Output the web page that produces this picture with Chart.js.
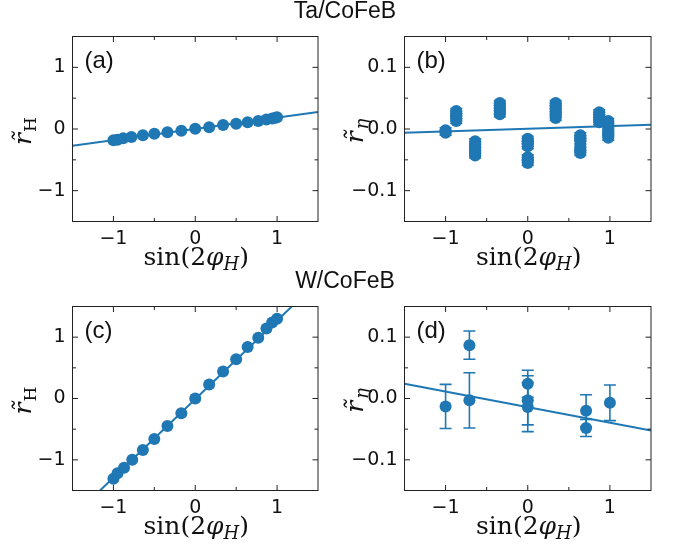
<!DOCTYPE html>
<html>
<head>
<meta charset="utf-8">
<script src="https://cdn.jsdelivr.net/npm/chart.js@4.4.1/dist/chart.umd.min.js"></script>
<style>
  body { margin: 0; background: #fff; }
  #wrap { position: relative; width: 683px; height: 548px; }
  #wrap canvas { position: absolute; left: 0; top: 0; }
</style>
</head>
<body>
<div id="wrap">
  <canvas id="chartA" width="683" height="548"></canvas>
  <canvas id="chartB" width="683" height="548"></canvas>
  <canvas id="chartC" width="683" height="548"></canvas>
  <canvas id="chartD" width="683" height="548"></canvas>
</div>
<script>
// --- Data ---
const xMajor = [-1, 0, 1];
const xMinor = [-0.5, 0.5];
const rMinor = [-0.5, 0.5];
const etaMinor = [-0.05, 0.05];
const fitX = [-1.5, 1.5];

// (a) Ta/CoFeB  r_H
const aX = [-1, -0.95, -0.88, -0.78, -0.64, -0.5, -0.34, -0.17, 0, 0.17, 0.34, 0.5, 0.64, 0.77, 0.87, 0.94, 0.98, 1];
const aY = [-0.184, -0.173, -0.151, -0.13, -0.103, -0.076, -0.054, -0.027, 0.004, 0.03, 0.065, 0.086, 0.108, 0.13, 0.155, 0.172, 0.182, 0.19];
const aFit = [-0.27, 0.275];

// (b) Ta/CoFeB  r_eta
const bX = [-1, -1,
  -0.87, -0.87, -0.87, -0.87, -0.87,
  -0.64, -0.64, -0.64, -0.64, -0.64, -0.64,
  -0.34, -0.34, -0.34, -0.34, -0.34,
  0, 0, 0, 0, 0, 0, 0,
  0.34, 0.34, 0.34, 0.34, 0.34, 0.34,
  0.64, 0.64, 0.64, 0.64, 0.64, 0.64,
  0.87, 0.87, 0.87, 0.87, 0.87,
  0.98, 0.98, 0.98, 0.98, 0.98, 0.98];
const bY = [-0.002, -0.006,
  0.013, 0.017, 0.021, 0.025, 0.029,
  -0.020, -0.025, -0.030, -0.035, -0.040, -0.043,
  0.024, 0.029, 0.034, 0.038, 0.042,
  -0.016, -0.020, -0.024, -0.028, -0.046, -0.050, -0.055,
  0.018, 0.023, 0.028, 0.033, 0.038, 0.042,
  -0.010, -0.015, -0.020, -0.030, -0.034, -0.039,
  0.011, 0.015, 0.019, 0.023, 0.027,
  0.013, 0.008, 0.002, -0.004, -0.009, -0.014];
const bErr = bY.map(() => 0.004);
const bFit = [-0.006, 0.007];

// (c) W/CoFeB  r_H
const cX = [-1, -0.95, -0.87, -0.77, -0.64, -0.5, -0.34, -0.17, 0, 0.17, 0.34, 0.5, 0.64, 0.77, 0.87, 0.94, 1];
const cY = [-1.31, -1.22, -1.13, -1.0, -0.84, -0.66, -0.45, -0.24, 0, 0.23, 0.44, 0.64, 0.84, 0.99, 1.14, 1.24, 1.30];
const cFit = [-1.93, 1.91];

// (d) W/CoFeB  r_eta
const dX = [-1, -0.71, -0.71, 0, 0, 0, 0.71, 0.71, 1];
const dY = [-0.013, 0.087, -0.003, 0.024, -0.003, -0.014, -0.020, -0.048, -0.007];
const dErr = [0.036, 0.023, 0.045, 0.022, 0.040, 0.040, 0.026, 0.014, 0.029];
const dFit = [0.024, -0.052];

const BLUE = '#1f77b4';
const INK = '#111';

// --- Helpers ---
function fmtTick(v, digits) {
  const s = Math.abs(v).toFixed(digits);
  return v < -1e-9 ? '\u2212' + s : s;
}

function drawRich(ctx, parts, cx, cy, angle) {
  ctx.save();
  ctx.translate(cx, cy);
  ctx.rotate(angle);
  ctx.textBaseline = 'alphabetic';
  ctx.textAlign = 'left';
  ctx.fillStyle = INK;
  let w = 0;
  parts.forEach(p => { ctx.font = p.font; p.w = ctx.measureText(p.t).width + (p.gap || 0); w += p.w; });
  let x = -w / 2;
  parts.forEach(p => { ctx.font = p.font; ctx.fillText(p.t, x + (p.gap || 0), p.dy || 0); x += p.w; });
  ctx.restore();
}

// error bars, drawn through the chart scales
const errorBars = {
  id: 'errorBars',
  beforeDatasetsDraw(chart) {
    const { ctx, chartArea: a, scales: { x, y } } = chart;
    ctx.save();
    ctx.beginPath();
    ctx.rect(a.left, a.top, a.right - a.left, a.bottom - a.top);
    ctx.clip();
    ctx.strokeStyle = BLUE;
    ctx.lineWidth = 1.6;
    chart.data.datasets.forEach(ds => {
      if (!ds.err) return;
      ds.data.forEach((p, i) => {
        const px = x.getPixelForValue(p.x);
        const y1 = y.getPixelForValue(p.y - ds.err[i]);
        const y2 = y.getPixelForValue(p.y + ds.err[i]);
        ctx.beginPath();
        ctx.moveTo(px, y1); ctx.lineTo(px, y2);
        ctx.moveTo(px - 6, y1); ctx.lineTo(px + 6, y1);
        ctx.moveTo(px - 6, y2); ctx.lineTo(px + 6, y2);
        ctx.stroke();
      });
    });
    ctx.restore();
  }
};

// frame, inward ticks, labels
const deco = {
  id: 'deco',
  afterDraw(chart, args, o) {
    const { ctx, chartArea: a, scales: { x, y } } = chart;
    ctx.save();
    ctx.strokeStyle = '#222';
    ctx.lineWidth = 1;
    ctx.strokeRect(a.left, a.top, a.right - a.left, a.bottom - a.top);

    ctx.beginPath();
    const tickX = (v, len) => {
      const px = x.getPixelForValue(v);
      ctx.moveTo(px, a.bottom); ctx.lineTo(px, a.bottom - len);
      ctx.moveTo(px, a.top); ctx.lineTo(px, a.top + len);
    };
    const tickY = (v, len) => {
      const py = y.getPixelForValue(v);
      ctx.moveTo(a.left, py); ctx.lineTo(a.left + len, py);
      ctx.moveTo(a.right, py); ctx.lineTo(a.right - len, py);
    };
    x.ticks.forEach(t => tickX(t.value, 5.5));
    y.ticks.forEach(t => tickY(t.value, 5.5));
    o.xMinor.forEach(v => tickX(v, 3.5));
    o.yMinor.forEach(v => tickY(v, 3.5));
    ctx.stroke();

    // panel tag
    ctx.fillStyle = INK;
    ctx.font = '24px "Liberation Sans"';
    ctx.textAlign = 'left';
    ctx.textBaseline = 'alphabetic';
    ctx.fillText(o.tag, a.left + 12, a.top + 31.5);

    // row title
    if (o.title) {
      ctx.font = '23px "Liberation Sans"';
      ctx.textAlign = 'center';
      ctx.fillText(o.title, 345, a.top - 18.5);
    }

    // x label: sin(2 phi_H)
    const cx = (a.left + a.right) / 2;
    drawRich(ctx, [
      { t: 'sin(2', font: '25px "DejaVu Serif"' },
      { t: '\u03C6', font: 'italic 25px "DejaVu Serif"' },
      { t: 'H', font: 'italic 18px "DejaVu Serif"', dy: 5 },
      { t: ')', font: '25px "DejaVu Serif"' }
    ], cx + 1, a.bottom + 43.5, 0);

    // y label: r~ with subscript
    const cy = (a.top + a.bottom) / 2;
    const sub = o.ySub === 'H'
      ? { t: 'H', font: '17px "DejaVu Serif"', dy: 4.5, gap: 1 }
      : { t: '\u03B7', font: 'italic 18px "DejaVu Serif"', dy: 4.5, gap: 2 };
    drawRich(ctx, [
      { t: 'r\u0303', font: 'italic 25px "DejaVu Serif"' },
      sub
    ], a.left - 41.5, cy + 2, -Math.PI / 2);
    ctx.restore();
  }
};

const Y_W = 60, X_H = 36;

function makePanel(canvasId, area, xs, ys, errs, fitY, yLim, yStep, yDigits, yMinor, tag, title, ySub) {
  const points = xs.map((v, i) => ({ x: v, y: ys[i] }));
  const line = fitX.map((v, i) => ({ x: v, y: fitY[i] }));
  return new Chart(document.getElementById(canvasId), {
    type: 'scatter',
    data: {
      datasets: [
        {
          data: points,
          err: errs,
          backgroundColor: BLUE,
          borderWidth: 0,
          pointRadius: 6,
          order: 1
        },
        {
          type: 'line',
          data: line,
          borderColor: BLUE,
          borderWidth: 2,
          pointRadius: 0,
          fill: false,
          order: 2
        }
      ]
    },
    options: {
      responsive: false,
      animation: false,
      devicePixelRatio: 1,
      events: [],
      layout: {
        padding: {
          left: area.left - Y_W,
          top: area.top,
          right: 683 - area.right,
          bottom: 548 - area.bottom - X_H
        }
      },
      plugins: {
        legend: { display: false },
        tooltip: { enabled: false },
        deco: { xMinor, yMinor, tag, title, ySub }
      },
      scales: {
        x: {
          type: 'linear',
          min: -1.5, max: 1.5,
          afterFit: s => { s.height = X_H; },
          afterBuildTicks: s => { s.ticks = xMajor.map(v => ({ value: v })); },
          grid: { display: false, drawTicks: false },
          border: { display: false },
          ticks: {
            padding: 6,
            color: INK,
            font: { family: 'DejaVu Sans', size: 19 },
            callback: v => fmtTick(v, 0)
          }
        },
        y: {
          type: 'linear',
          min: -yLim, max: yLim,
          afterFit: s => { s.width = Y_W; },
          afterBuildTicks: s => { s.ticks = [-yStep, 0, yStep].map(v => ({ value: v })); },
          grid: { display: false, drawTicks: false },
          border: { display: false },
          ticks: {
            padding: 7,
            color: INK,
            font: { family: 'DejaVu Sans', size: 19 },
            callback: v => fmtTick(v, yDigits)
          }
        }
      }
    },
    plugins: [errorBars, deco]
  });
}

const areaA = { left: 72.5, top: 36.5, right: 318, bottom: 221.5 };
const areaB = { left: 404.5, top: 36.5, right: 651, bottom: 221.5 };
const areaC = { left: 72.5, top: 306.5, right: 318, bottom: 490.5 };
const areaD = { left: 404.5, top: 306.5, right: 651, bottom: 490.5 };

makePanel('chartA', areaA, aX, aY, null, aFit, 1.5, 1, 0, rMinor, '(a)', 'Ta/CoFeB', 'H');
makePanel('chartB', areaB, bX, bY, bErr, bFit, 0.15, 0.1, 1, etaMinor, '(b)', null, 'eta');
makePanel('chartC', areaC, cX, cY, null, cFit, 1.5, 1, 0, rMinor, '(c)', 'W/CoFeB', 'H');
makePanel('chartD', areaD, dX, dY, dErr, dFit, 0.15, 0.1, 1, etaMinor, '(d)', null, 'eta');
</script>
</body>
</html>
